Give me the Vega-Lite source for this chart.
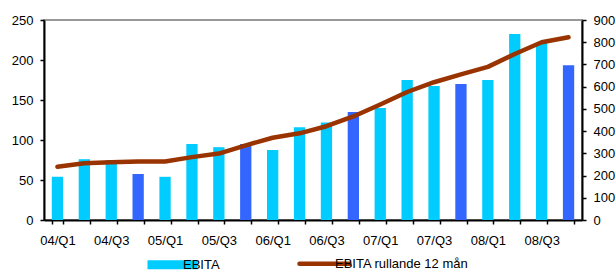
{
  "$schema": "https://vega.github.io/schema/vega-lite/v6.json",
  "width": 538,
  "height": 200,
  "autosize": "none",
  "padding": {"left": 44, "top": 20, "right": 34, "bottom": 52},
  "config": {
    "font": "Liberation Sans",
    "view": {"stroke": "#999999", "strokeWidth": 2},
    "axis": {
      "labelFont": "Liberation Sans",
      "labelFontSize": 13,
      "labelColor": "#000000",
      "domainColor": "#000000",
      "domainWidth": 2,
      "tickColor": "#000000",
      "tickWidth": 1.5,
      "tickSize": 4,
      "grid": false,
      "title": null
    }
  },
  "data": {
    "values": [
      {"kvartal": "04/Q1", "ebita": 54, "rullande": 240, "serie": "EBITA"},
      {"kvartal": "04/Q2", "ebita": 76, "rullande": 255, "serie": "EBITA"},
      {"kvartal": "04/Q3", "ebita": 75, "rullande": 260, "serie": "EBITA"},
      {"kvartal": "04/Q4", "ebita": 57.5, "rullande": 263, "serie": "EBITA Q4"},
      {"kvartal": "05/Q1", "ebita": 54, "rullande": 263, "serie": "EBITA"},
      {"kvartal": "05/Q2", "ebita": 95, "rullande": 283, "serie": "EBITA"},
      {"kvartal": "05/Q3", "ebita": 91, "rullande": 299, "serie": "EBITA"},
      {"kvartal": "05/Q4", "ebita": 95, "rullande": 336, "serie": "EBITA Q4"},
      {"kvartal": "06/Q1", "ebita": 87.5, "rullande": 370, "serie": "EBITA"},
      {"kvartal": "06/Q2", "ebita": 116, "rullande": 390, "serie": "EBITA"},
      {"kvartal": "06/Q3", "ebita": 122, "rullande": 422, "serie": "EBITA"},
      {"kvartal": "06/Q4", "ebita": 135, "rullande": 466, "serie": "EBITA Q4"},
      {"kvartal": "07/Q1", "ebita": 140, "rullande": 520, "serie": "EBITA"},
      {"kvartal": "07/Q2", "ebita": 175, "rullande": 576, "serie": "EBITA"},
      {"kvartal": "07/Q3", "ebita": 167.5, "rullande": 620, "serie": "EBITA"},
      {"kvartal": "07/Q4", "ebita": 170, "rullande": 655, "serie": "EBITA Q4"},
      {"kvartal": "08/Q1", "ebita": 175, "rullande": 689, "serie": "EBITA"},
      {"kvartal": "08/Q2", "ebita": 232.5, "rullande": 747, "serie": "EBITA"},
      {"kvartal": "08/Q3", "ebita": 221.5, "rullande": 800, "serie": "EBITA"},
      {"kvartal": "08/Q4", "ebita": 193.5, "rullande": 822, "serie": "EBITA Q4"}
    ]
  },
  "encoding": {
    "x": {
      "field": "kvartal",
      "type": "ordinal",
      "sort": null,
      "scale": {"paddingInner": 0.58, "paddingOuter": 0.29},
      "axis": {
        "title": null,
        "labelAngle": 0,
        "tickBand": "extent",
        "labelPadding": 10,
        "labelOverlap": false,
        "labelExpr": "indexof(datum.label, 'Q1') >= 0 || indexof(datum.label, 'Q3') >= 0 ? datum.label : ''"
      }
    }
  },
  "layer": [
    {
      "mark": {"type": "bar"},
      "encoding": {
        "y": {
          "field": "ebita",
          "type": "quantitative",
          "scale": {"domain": [0, 250]},
          "axis": {"values": [0, 50, 100, 150, 200, 250], "title": null, "labelPadding": 7}
        },
        "color": {
          "field": "serie",
          "type": "nominal",
          "scale": {
            "domain": ["EBITA", "EBITA rullande 12 mån", "EBITA Q4"],
            "range": ["#00CCFF", "#993300", "#3366FF"]
          },
          "legend": {
            "title": null,
            "orient": "none",
            "legendX": 122,
            "legendY": 237,
            "direction": "horizontal",
            "values": ["EBITA", "EBITA rullande 12 mån"],
            "labelFont": "Liberation Sans",
            "labelFontSize": 13,
            "labelColor": "#000000",
            "symbolSize": 2500,
            "labelOffset": 4,
            "columnPadding": 70,
            "encode": {
              "symbols": {
                "update": {
                  "shape": {"signal": "datum.value === 'EBITA' ? 'M-1,-0.18H1V0.18H-1Z' : 'stroke'"},
                  "fill": {"signal": "datum.value === 'EBITA' ? '#00CCFF' : 'transparent'"},
                  "stroke": {"signal": "datum.value === 'EBITA' ? 'transparent' : '#993300'"},
                  "strokeWidth": {"signal": "datum.value === 'EBITA' ? 0 : 4.5"},
                  "strokeCap": {"value": "round"},
                  "opacity": {"value": 1},
                  "fillOpacity": {"value": 1},
                  "strokeOpacity": {"value": 1}
                }
              }
            }
          }
        }
      }
    },
    {
      "mark": {"type": "line", "strokeWidth": 4.5, "strokeCap": "round", "strokeJoin": "round"},
      "encoding": {
        "y": {
          "field": "rullande",
          "type": "quantitative",
          "scale": {"domain": [0, 900]},
          "axis": {"orient": "right", "values": [0, 100, 200, 300, 400, 500, 600, 700, 800, 900], "title": null, "labelPadding": 7}
        },
        "color": {"datum": "EBITA rullande 12 mån", "type": "nominal"}
      }
    }
  ],
  "resolve": {"scale": {"y": "independent"}}
}
